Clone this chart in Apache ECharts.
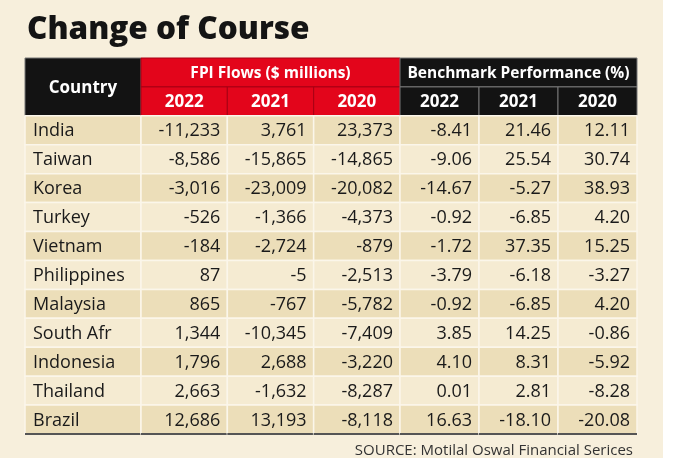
<!DOCTYPE html>
<html><head><meta charset="utf-8">
<script src="https://cdn.jsdelivr.net/npm/echarts@6/dist/echarts.min.js"></script>
<style>html,body{margin:0;padding:0;background:#fff}#c{width:690px;height:458px}</style>
</head><body><div id="c"></div>
<script>
const countries = ['India','Taiwan','Korea','Turkey','Vietnam','Philippines','Malaysia','South Afr','Indonesia','Thailand','Brazil'];
const years = ['2022','2021','2020'];
const fpi2022 = [-11233,-8586,-3016,-526,-184,87,865,1344,1796,2663,12686];
const fpi2021 = [3761,-15865,-23009,-1366,-2724,-5,-767,-10345,2688,-1632,13193];
const fpi2020 = [23373,-14865,-20082,-4373,-879,-2513,-5782,-7409,-3220,-8287,-8118];
const bench2022 = [-8.41,-9.06,-14.67,-0.92,-1.72,-3.79,-0.92,3.85,4.10,0.01,16.63];
const bench2021 = [21.46,25.54,-5.27,-6.85,37.35,-6.18,-6.85,14.25,8.31,2.81,-18.10];
const bench2020 = [12.11,30.74,38.93,4.20,15.25,-3.27,4.20,-0.86,-5.92,-8.28,-20.08];
const groupTitles = ['FPI Flows ($ millions)','Benchmark Performance (%)'];
const countryHeader = 'Country';
const titleText = 'Change of Course';
const sourceText = 'SOURCE: Motilal Oswal Financial Serices';

const FONT = '"Open Sans", "Noto Sans", sans-serif';
const RED = '#e3051b', BLACK = '#131313';
const DARK = '#ecdeb9', LIGHT = '#f5ebd2';
const rowKeys = ['h1','h2'].concat(countries);
const fmtInt = v => v.toLocaleString('en-US');
const fmtPct = v => v.toFixed(2);
const shade = i => (i % 2 === 0 ? DARK : LIGHT);

function dataCells(cols, fmt) {
  const out = [];
  cols.forEach((arr, c) => arr.forEach((v, i) => out.push({c, r: i + 2, span: 1, rs: 1, text: fmt(v), fill: shade(i), color: '#1a1a1a', weight: 'normal', align: 'right', size: 18, kind: 'data', last: i === countries.length - 1})));
  return out;
}
const cells0 = [{c:0,r:0,span:1,rs:2,text:countryHeader,fill:BLACK,color:'#fff',weight:'bold',align:'center',size:17,kind:'hb'}]
  .concat(countries.map((n,i)=>({c:0,r:i+2,span:1,rs:1,text:n,fill:shade(i),color:'#1a1a1a',weight:'normal',align:'left',size:18,kind:'data',last:i===countries.length-1})));
const cells1 = [{c:0,r:0,span:3,rs:1,text:groupTitles[0],fill:RED,color:'#fff',weight:'bold',align:'center',size:15.5,kind:'hr'}]
  .concat(years.map((y,j)=>({c:j,r:1,span:1,rs:1,text:y,fill:RED,color:'#fff',weight:'bold',align:'center',size:17,kind:'hr'})))
  .concat(dataCells([fpi2022,fpi2021,fpi2020], fmtInt));
const cells2 = [{c:0,r:0,span:3,rs:1,text:groupTitles[1],fill:BLACK,color:'#fff',weight:'bold',align:'center',size:15.5,kind:'hb'}]
  .concat(years.map((y,j)=>({c:j,r:1,span:1,rs:1,text:y,fill:BLACK,color:'#fff',weight:'bold',align:'center',size:17,kind:'hb'})))
  .concat(dataCells([bench2022,bench2021,bench2020], fmtPct));

function makeRender(cells) {
  return function (params, api) {
    const d = cells[params.dataIndex];
    const p = api.coord([api.value(0), api.value(1)]);
    const s = api.size([1, 1]);
    const x0 = p[0] - s[0] / 2, y0 = p[1] - s[1] / 2;
    const w = s[0] * d.span, h = s[1] * d.rs;
    const stroke = d.kind === 'data' ? '#fbf6ea' : (d.kind === 'hr' ? '#a80014' : '#777');
    const children = [{
      type: 'rect', shape: {x: x0, y: y0, width: w, height: h},
      style: {fill: d.fill, stroke: stroke, lineWidth: d.kind === 'data' ? 1.5 : 1}
    }];
    let tx = x0 + w / 2;
    if (d.align === 'right') tx = x0 + w - 7;
    if (d.align === 'left') tx = x0 + 8;
    children.push({
      type: 'text',
      style: {x: tx, y: y0 + h / 2 + 1, text: d.text, fill: d.color, align: d.align, verticalAlign: 'middle',
        font: d.weight + ' ' + d.size + 'px ' + FONT}
    });
    if (d.last) {
      children.push({type: 'line', shape: {x1: x0, y1: y0 + h, x2: x0 + w, y2: y0 + h}, style: {stroke: '#555', lineWidth: 2}});
    }
    return {type: 'group', children};
  };
}

const grids = [
  {left: 25, top: 58, width: 116, height: 376},
  {left: 141, top: 58, width: 259, height: 376},
  {left: 400, top: 58, width: 237, height: 376}
];
const allCells = [cells0, cells1, cells2];
const chart = echarts.init(document.getElementById('c'), null, {renderer: 'canvas'});
chart.setOption({
  backgroundColor: '#ffffff',
  graphic: [{type: 'rect', z: -10, shape: {x: 0, y: 0, width: 663, height: 458}, style: {fill: '#f7efdc'}}],
  title: [
    {text: titleText, left: 22, top: 9, textStyle: {fontFamily: FONT, fontSize: 31.5, fontWeight: 800, color: '#141414'}},
    {text: sourceText, right: 52, top: 438, textStyle: {fontFamily: FONT, fontSize: 15, fontWeight: 'normal', color: '#333'}}
  ],
  grid: grids,
  xAxis: grids.map((g, i) => ({type: 'category', gridIndex: i, data: i === 0 ? [countryHeader] : years, show: false})),
  yAxis: grids.map((g, i) => ({type: 'category', gridIndex: i, data: rowKeys, inverse: true, show: false})),
  series: allCells.map((cells, i) => ({
    type: 'custom', xAxisIndex: i, yAxisIndex: i, silent: true, animation: false,
    renderItem: makeRender(cells),
    data: cells.map(d => [d.c, d.r])
  }))
});
</script></body></html>
